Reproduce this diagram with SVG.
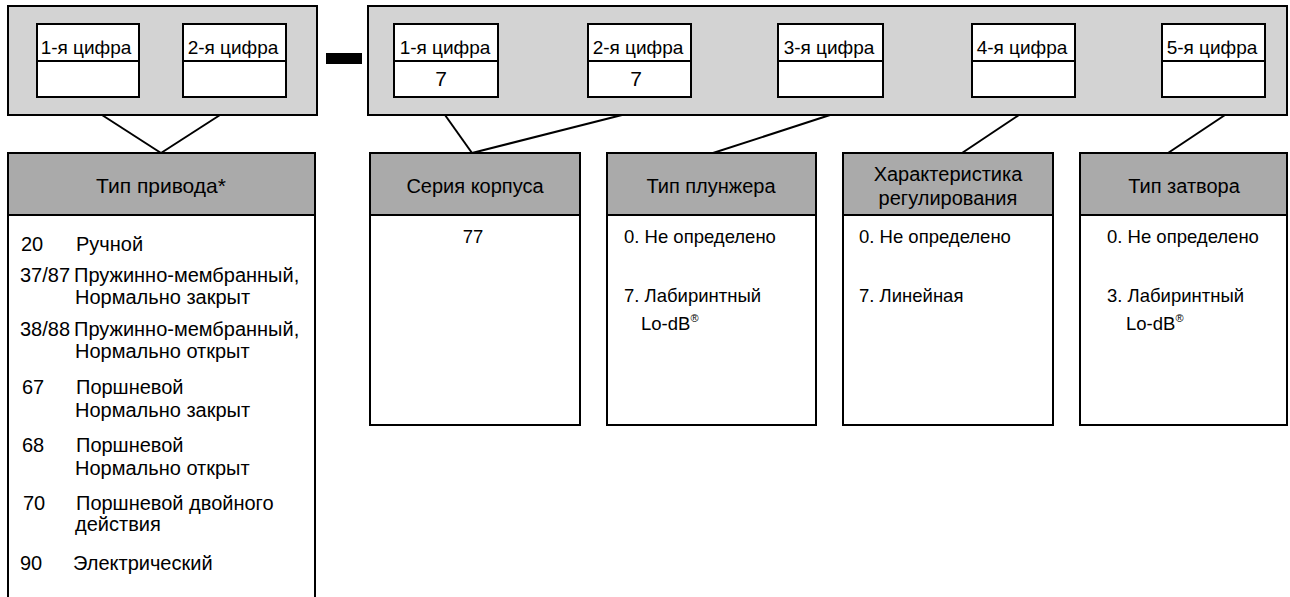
<svg xmlns="http://www.w3.org/2000/svg" width="1290" height="597" viewBox="0 0 1290 597">
<style>
text{font-family:"Liberation Sans",Arial,sans-serif;fill:#000}
.outer{fill:#d3d3d3;stroke:#000;stroke-width:2}
.digit{fill:#fff;stroke:#000;stroke-width:2}
.dv{stroke:#000;stroke-width:2}
.hdr{fill:#aaaaaa;stroke:#000;stroke-width:2}
.body{fill:#fff;stroke:#000;stroke-width:2}
.conn{stroke:#000;stroke-width:2;fill:none}
.lbl{font-size:19px;text-anchor:middle}
.val{font-size:21px;text-anchor:middle}
.h{font-size:20px;text-anchor:middle}
.a{font-size:20px}
.b{font-size:18.5px}
.sup{font-size:11px}
</style>
<rect width="1290" height="597" fill="#fff"/>

<g id="actuator-code">
<rect class="outer" x="8" y="6" width="309" height="109"/>
<rect class="digit" x="37" y="24" width="102" height="73"/>
<line class="dv" x1="37" y1="61" x2="139" y2="61"/>
<text class="lbl" x="86" y="54">1-я цифра</text>
<rect class="digit" x="183" y="24" width="103" height="73"/>
<line class="dv" x1="183" y1="61" x2="286" y2="61"/>
<text class="lbl" x="233" y="54">2-я цифра</text>
</g>

<g id="dash">
<rect x="326" y="53" width="36" height="11" fill="#000"/>
</g>

<g id="valve-code">
<rect class="outer" x="368" y="6" width="919" height="109"/>
<rect class="digit" x="394" y="24" width="104" height="73"/>
<line class="dv" x1="394" y1="61" x2="498" y2="61"/>
<text class="lbl" x="445" y="54">1-я цифра</text>
<text class="val" x="441" y="86">7</text>
<rect class="digit" x="588" y="24" width="103" height="73"/>
<line class="dv" x1="588" y1="61" x2="691" y2="61"/>
<text class="lbl" x="638" y="54">2-я цифра</text>
<text class="val" x="636" y="86">7</text>
<rect class="digit" x="778" y="24" width="105" height="73"/>
<line class="dv" x1="778" y1="61" x2="883" y2="61"/>
<text class="lbl" x="829" y="54">3-я цифра</text>
<rect class="digit" x="972" y="24" width="103" height="73"/>
<line class="dv" x1="972" y1="61" x2="1075" y2="61"/>
<text class="lbl" x="1022" y="54">4-я цифра</text>
<rect class="digit" x="1162" y="24" width="103" height="73"/>
<line class="dv" x1="1162" y1="61" x2="1265" y2="61"/>
<text class="lbl" x="1212" y="54">5-я цифра</text>
</g>

<g id="connectors">
<line class="conn" x1="102" y1="115" x2="161" y2="153"/>
<line class="conn" x1="220" y1="115" x2="161" y2="153"/>
<line class="conn" x1="445" y1="115" x2="472" y2="153"/>
<line class="conn" x1="622" y1="115" x2="472" y2="153"/>
<line class="conn" x1="830" y1="115" x2="713" y2="153"/>
<line class="conn" x1="1019" y1="115" x2="962" y2="153"/>
<line class="conn" x1="1225" y1="115" x2="1168" y2="153"/>
</g>

<g id="table-actuator">
<rect class="body" x="8" y="153" width="307" height="460"/>
<rect class="hdr" x="8" y="153" width="307" height="62"/>
<text class="h" x="161" y="193" style="font-size:21px">Тип привода*</text>
<text class="a" x="21" y="251">20</text><text class="a" x="76" y="251">Ручной</text>
<text class="a" x="20" y="282">37/87</text><text class="a" x="74" y="282">Пружинно-мембранный,</text>
<text class="a" x="75" y="304">Нормально закрыт</text>
<text class="a" x="20" y="336">38/88</text><text class="a" x="74" y="336">Пружинно-мембранный,</text>
<text class="a" x="75" y="358">Нормально открыт</text>
<text class="a" x="22" y="394">67</text><text class="a" x="76" y="394">Поршневой</text>
<text class="a" x="75" y="417">Нормально закрыт</text>
<text class="a" x="22" y="452">68</text><text class="a" x="76" y="452">Поршневой</text>
<text class="a" x="75" y="475">Нормально открыт</text>
<text class="a" x="23" y="510">70</text><text class="a" x="76" y="510">Поршневой двойного</text>
<text class="a" x="75" y="531">действия</text>
<text class="a" x="20" y="570">90</text><text class="a" x="73" y="570">Электрический</text>
</g>

<g id="table-body-series">
<rect class="body" x="370" y="153" width="210" height="272"/>
<rect class="hdr" x="370" y="153" width="210" height="62"/>
<text class="h" x="475" y="193">Серия корпуса</text>
<text class="b" x="473" y="243" text-anchor="middle">77</text>
</g>

<g id="table-plug">
<rect class="body" x="607" y="153" width="209" height="272"/>
<rect class="hdr" x="607" y="153" width="209" height="62"/>
<text class="h" x="711" y="193">Тип плунжера</text>
<text class="b" x="624" y="243">0. Не определено</text>
<text class="b" x="624" y="302">7. Лабиринтный</text>
<text class="b" x="641" y="330">Lo-dB<tspan class="sup" dy="-8">®</tspan></text>
</g>

<g id="table-characteristic">
<rect class="body" x="843" y="153" width="210" height="272"/>
<rect class="hdr" x="843" y="153" width="210" height="62"/>
<text class="h" x="948" y="181">Характеристика</text>
<text class="h" x="948" y="205">регулирования</text>
<text class="b" x="859" y="243">0. Не определено</text>
<text class="b" x="859" y="302">7. Линейная</text>
</g>

<g id="table-seat">
<rect class="body" x="1080" y="153" width="207" height="272"/>
<rect class="hdr" x="1080" y="153" width="207" height="62"/>
<text class="h" x="1184" y="193">Тип затвора</text>
<text class="b" x="1107" y="243">0. Не определено</text>
<text class="b" x="1107" y="302">3. Лабиринтный</text>
<text class="b" x="1126" y="330">Lo-dB<tspan class="sup" dy="-8">®</tspan></text>
</g>
</svg>
